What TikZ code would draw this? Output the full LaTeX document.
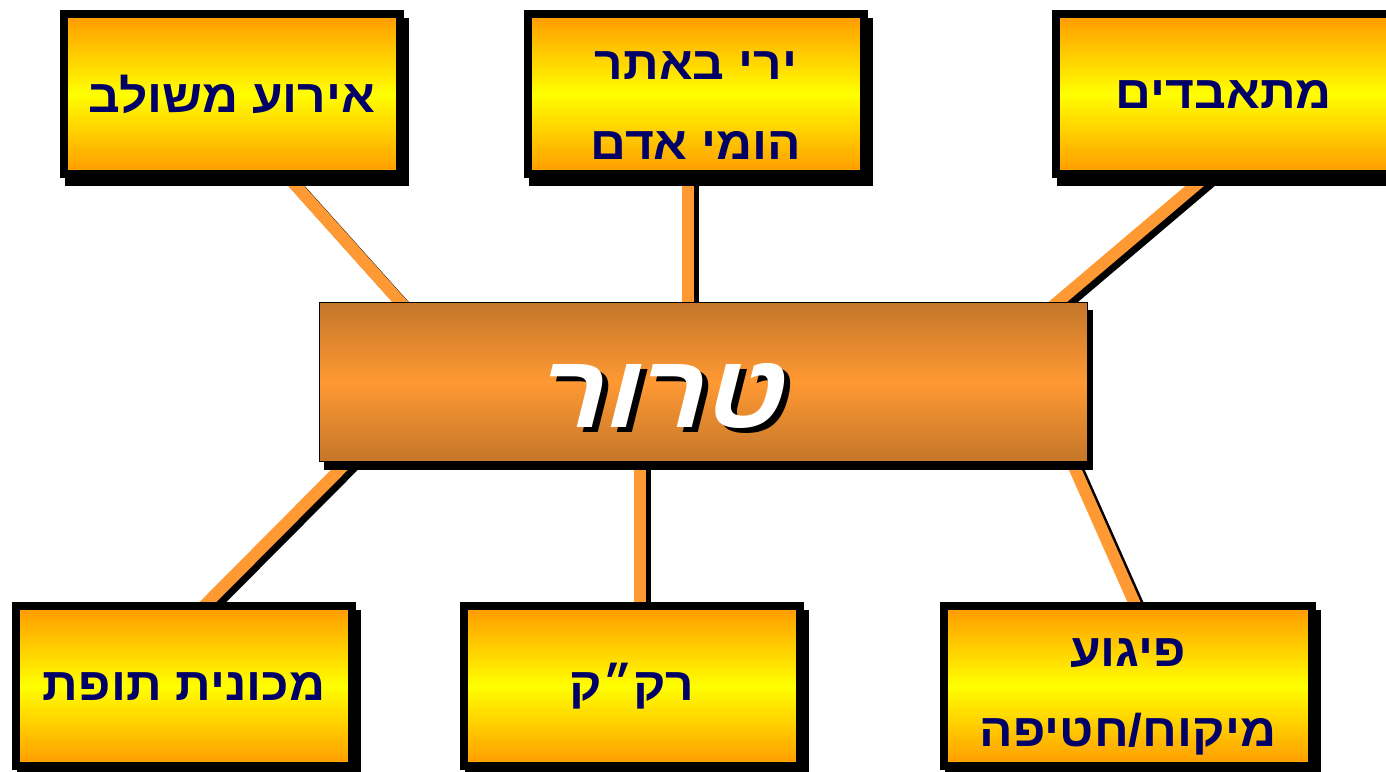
\documentclass[tikz,border=0pt]{standalone}
\usepackage{fontspec}
\newfontfamily\hebfont[Script=Hebrew,FakeStretch=1.08]{Liberation Sans}
\newfontfamily\titlefont[Script=Hebrew,FakeSlant=0.25,FakeStretch=1.1]{Liberation Sans}
\TeXXeTstate=1
\usetikzlibrary{backgrounds}
\definecolor{boxorange}{RGB}{255,153,0}
\definecolor{boxyellow}{RGB}{255,255,0}
\definecolor{textnavy}{RGB}{0,0,102}
\definecolor{hubdark}{RGB}{196,118,42}
\definecolor{hublight}{RGB}{255,153,51}
\definecolor{linkorange}{RGB}{255,153,51}
\newcommand\lowerline{\rule{0pt}{25pt}}
\tikzset{
 topic/.style={draw=black,line width=4pt,minimum width=168pt,minimum height=80pt,inner sep=0pt,
  top color=boxorange,bottom color=boxorange,middle color=boxyellow,
  text=textnavy,align=center,font=\hebfont\bfseries\fontsize{23}{40}\selectfont},
 hub/.style={draw=black,line width=0.7pt,minimum width=384pt,minimum height=79.5pt,inner sep=0pt,
  top color=hubdark,bottom color=hubdark,middle color=hublight},
 title/.style={text=white,anchor=base,inner sep=0pt,font=\titlefont\bfseries\fontsize{52}{52}\selectfont},
 titleshadow/.style={title,text=black},
 link/.style={linkorange,line width=6pt,shorten <=-6pt,shorten >=-6pt},
 linkshadow/.style={link,black,transform canvas={xshift=2.5pt,yshift=-2.5pt}},
 boxshadow/.style={fill=black,transform canvas={xshift=2.5pt,yshift=-4pt}},
}
\begin{document}
\begin{tikzpicture}[x=0.5pt,y=-0.5pt]
 \useasboundingbox (0,0) rectangle (1386,771);
 \node[topic] (b1) at (232,94) {\beginR אירוע משולב\endR};
 \node[topic] (b2) at (696,94) {\lowerline\beginR ירי באתר\endR\\\beginR הומי אדם\endR};
 \node[topic] (b3) at (1224,94) {\beginR מתאבדים\endR};
 \node[topic] (b4) at (184,686) {\beginR מכונית תופת\endR};
 \node[topic] (b5) at (632,686) {\beginR רק״ק\endR};
 \node[topic,minimum width=184pt] (b6) at (1128,686) {\lowerline\beginR פיגוע\endR\\\beginR מיקוח/חטיפה\endR};
 \node[hub] (hub) at (703.5,382) {};
 \node[titleshadow] at ([shift={(-39.5,50)}]hub.center) {\beginR טרור\endR};
 \node[title] (hubtext) at ([shift={(-45.5,45)}]hub.center) {\beginR טרור\endR};
 \begin{pgfonlayer}{background}
  \foreach \s in {linkshadow,link}{
   \draw[\s] ([shift={(57,0)}]b1.south) -- ([shift={(-303.5,0)}]hub.north);
   \draw[\s] ([shift={(-8,0)}]b2.south) -- ([shift={(-15.5,0)}]hub.north);
   \draw[\s] ([shift={(-20,0)}]b3.south) -- ([shift={(354.5,0)}]hub.north);
   \draw[\s] ([shift={(-356.5,0)}]hub.south) -- ([shift={(24,0)}]b4.north);
   \draw[\s] ([shift={(-63.5,0)}]hub.south) -- ([shift={(8,0)}]b5.north);
   \draw[\s] ([shift={(368.5,0)}]hub.south) -- ([shift={(6,0)}]b6.north);
  }
  \foreach \n in {b1,b2,b3,b4,b5,b6,hub}
   \fill[boxshadow] (\n.north west) rectangle (\n.south east);
 \end{pgfonlayer}
\end{tikzpicture}
\end{document}
